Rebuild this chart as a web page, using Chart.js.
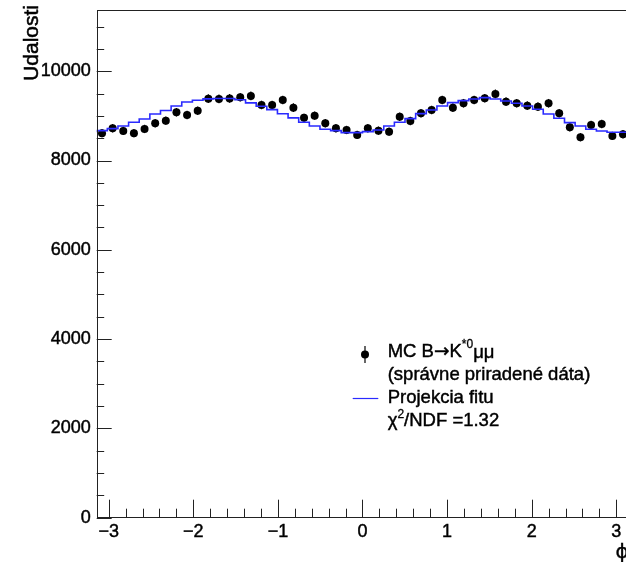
<!DOCTYPE html>
<html><head><meta charset="utf-8">
<script src="https://cdn.jsdelivr.net/npm/chart.js@4.4.0/dist/chart.umd.min.js"></script>
<style>
html,body{margin:0;padding:0;background:#fff;overflow:hidden;width:626px;height:562px}
canvas{display:block}
</style></head>
<body>
<canvas id="c" width="640" height="562" style="width:640px;height:562px"></canvas>
<script>
// ---- data ----
const PHI_MIN = -Math.PI;
const PHI_MAX = Math.PI;
const Y_MAX = 11364;
const counts = [8611, 8723, 8662, 8611, 8707, 8835, 8893, 9080, 9020, 9112,
                9385, 9379, 9390, 9417, 9446, 9244, 9244, 9356, 9184, 8955,
                9005, 8835, 8723, 8684, 8572, 8723, 8669, 8646, 8982, 8886,
                9058, 9132, 9356, 9184, 9282, 9356, 9395, 9491, 9318, 9282,
                9229, 9206, 9282, 9058, 8745, 8521, 8797, 8819, 8550, 8588];
const fitValues = [8633, 8669, 8714, 8774, 8857, 8931, 9043, 9120, 9220, 9310,
                   9350, 9380, 9390, 9390, 9360, 9290, 9215, 9140, 9047, 8955,
                   8857, 8774, 8700, 8669, 8624, 8624, 8646, 8684, 8774, 8857,
                   8938, 9050, 9132, 9222, 9296, 9341, 9379, 9408, 9379, 9334,
                   9282, 9222, 9148, 9043, 8946, 8848, 8774, 8700, 8662, 8633];
const xTickValues = [-3, -2, -1, 0, 1, 2, 3];
const xTickLabels = ['\u22123', '\u22122', '\u22121', '0', '1', '2', '3'];
const yTickValues = [0, 2000, 4000, 6000, 8000, 10000];
const yTickLabels = ['0', '2000', '4000', '6000', '8000', '10000'];
const xTitle = '\u03D5';
const yTitle = 'Udalosti';
const chi2Text = '/NDF =1.32';

// ---- derived ----
const nBins = counts.length;
const binW = (PHI_MAX - PHI_MIN) / nBins;
const pointData = counts.map((v, i) => ({x: PHI_MIN + (i + 0.5) * binW, y: v}));
const fitData = fitValues.map((v, i) => ({x: PHI_MIN + i * binW, y: v}));
fitData.push({x: PHI_MAX, y: fitValues[fitValues.length - 1]});

const FONT = '"Liberation Sans", Arial, Helvetica, sans-serif';
const AXIS_COLOR = '#222';
const BLUE = '#2a2aff';

function boldText(ctx, t, x, y, w) {
  ctx.lineWidth = w;
  ctx.strokeText(t, x, y);
  ctx.fillText(t, x, y);
}

const errorBars = {
  id: 'errorBars',
  beforeDatasetsDraw(chart) {
    const ctx = chart.ctx, ys = chart.scales.y, xs = chart.scales.x;
    ctx.save();
    ctx.strokeStyle = '#000';
    ctx.lineWidth = 1.2;
    pointData.forEach(p => {
      const e = Math.sqrt(p.y);
      const px = xs.getPixelForValue(p.x);
      ctx.beginPath();
      ctx.moveTo(px, ys.getPixelForValue(p.y - e));
      ctx.lineTo(px, ys.getPixelForValue(p.y + e));
      ctx.stroke();
    });
    ctx.restore();
  }
};

const frameTicks = {
  id: 'frameTicks',
  afterDraw(chart) {
    const ctx = chart.ctx, a = chart.chartArea;
    const xs = chart.scales.x, ys = chart.scales.y;
    ctx.save();
    ctx.strokeStyle = AXIS_COLOR;
    ctx.lineWidth = 1;
    ctx.strokeRect(Math.round(a.left) + 0.5, Math.round(a.top) + 0.5,
                   Math.round(a.right - a.left), Math.round(a.bottom - a.top));
    ctx.beginPath();
    for (let k = -40; k <= 40; k++) {
      const v = k * 0.2;
      if (v < PHI_MIN || v > PHI_MAX) continue;
      const major = (k % 5 === 0);
      const px = Math.round(xs.getPixelForValue(v)) + 0.5;
      ctx.moveTo(px, a.bottom);
      ctx.lineTo(px, a.bottom - (major ? 18 : 9));
    }
    for (let v = 0; v <= Y_MAX; v += 500) {
      const major = (v % 2000 === 0);
      const py = Math.round(ys.getPixelForValue(v)) + 0.5;
      ctx.moveTo(a.left, py);
      ctx.lineTo(a.left + (major ? 15 : 7.5), py);
    }
    ctx.stroke();

    // titles
    ctx.fillStyle = '#000';
    ctx.strokeStyle = '#000';
    ctx.font = '21px ' + FONT;
    ctx.save();
    ctx.translate(32.5, 5);
    ctx.rotate(-Math.PI / 2);
    ctx.textAlign = 'right';
    ctx.textBaseline = 'middle';
    boldText(ctx, yTitle, 0, 0, 0.5);
    ctx.restore();
    ctx.font = '20px "DejaVu Sans", ' + FONT;
    ctx.textAlign = 'center';
    ctx.textBaseline = 'middle';
    boldText(ctx, xTitle, 622, 553, 0.4);

    // legend
    const lx = 387.7;
    const base = [356.5, 379.8, 403.1, 426.4];
    ctx.lineWidth = 1.2;
    ctx.beginPath();
    ctx.moveTo(365, 346); ctx.lineTo(365, 363);
    ctx.stroke();
    ctx.beginPath();
    ctx.arc(365, 354.5, 4, 0, Math.PI * 2);
    ctx.fill();
    ctx.strokeStyle = BLUE;
    ctx.lineWidth = 1.2;
    ctx.beginPath();
    ctx.moveTo(352.7, 398.5); ctx.lineTo(378.3, 398.5);
    ctx.stroke();
    ctx.strokeStyle = '#000';

    ctx.textAlign = 'left';
    ctx.textBaseline = 'alphabetic';
    const big = '18.5px ' + FONT, small = '12px ' + FONT;
    const arrowFont = '18.5px "DejaVu Sans", ' + FONT;
    const W = 0.45;
    let x = lx;
    ctx.font = big;
    boldText(ctx, 'MC B', x, base[0], W); x += ctx.measureText('MC B').width;
    ctx.font = arrowFont;
    boldText(ctx, '\u2192', x, base[0], W); x += ctx.measureText('\u2192').width;
    ctx.font = big;
    boldText(ctx, 'K', x, base[0], W); x += ctx.measureText('K').width;
    ctx.font = small;
    boldText(ctx, '*0', x, base[0] - 9, 0.3); x += ctx.measureText('*0').width;
    ctx.font = big;
    boldText(ctx, '\u03BC\u03BC', x, base[0] + 1, W);
    boldText(ctx, '(spr\u00E1vne priraden\u00E9 d\u00E1ta)', lx, base[1], W);
    boldText(ctx, 'Projekcia fitu', lx, base[2], W);
    x = lx;
    boldText(ctx, '\u03C7', x, base[3], W); x += ctx.measureText('\u03C7').width;
    ctx.font = small;
    boldText(ctx, '2', x, base[3] - 8, 0.3); x += ctx.measureText('2').width;
    ctx.font = big;
    boldText(ctx, chi2Text, x, base[3], W);
    ctx.restore();
  }
};

new Chart(document.getElementById('c'), {
  type: 'scatter',
  data: {
    datasets: [
      {
        label: 'Projekcia fitu',
        data: fitData,
        showLine: true,
        stepped: 'after',
        borderColor: BLUE,
        borderWidth: 1.6,
        pointRadius: 0,
        fill: false
      },
      {
        label: 'MC',
        data: pointData,
        showLine: false,
        pointRadius: 4,
        pointBackgroundColor: '#000',
        pointBorderWidth: 0,
        pointBorderColor: '#000'
      }
    ]
  },
  options: {
    responsive: false,
    animation: false,
    devicePixelRatio: 1,
    layout: {padding: {top: 10.3, right: 640 - 628.3, left: 0, bottom: 0}},
    plugins: {legend: {display: false}, tooltip: {enabled: false}, title: {display: false}},
    scales: {
      x: {
        type: 'linear',
        min: PHI_MIN,
        max: PHI_MAX,
        grid: {display: false, drawTicks: false},
        border: {display: false},
        afterFit(s) { s.height = 562 - 517.7; s.paddingLeft = 0; s.paddingRight = 0; },
        afterBuildTicks(s) { s.ticks = xTickValues.map(v => ({value: v})); },
        ticks: {
          autoSkip: false, maxRotation: 0, padding: 4, color: '#000',
          textStrokeColor: '#000', textStrokeWidth: 0.45,
          font: {family: FONT, size: 18},
          callback: (v) => xTickLabels[xTickValues.indexOf(v)]
        }
      },
      y: {
        min: 0,
        max: Y_MAX,
        grid: {display: false, drawTicks: false},
        border: {display: false},
        afterFit(s) { s.width = 96.7; s.paddingTop = 0; s.paddingBottom = 0; },
        afterBuildTicks(s) { s.ticks = yTickValues.map(v => ({value: v})); },
        ticks: {
          autoSkip: false, padding: 6, color: '#000',
          textStrokeColor: '#000', textStrokeWidth: 0.45,
          font: {family: FONT, size: 18},
          callback: (v) => yTickLabels[yTickValues.indexOf(v)]
        }
      }
    }
  },
  plugins: [errorBars, frameTicks]
});
</script>
</body></html>
